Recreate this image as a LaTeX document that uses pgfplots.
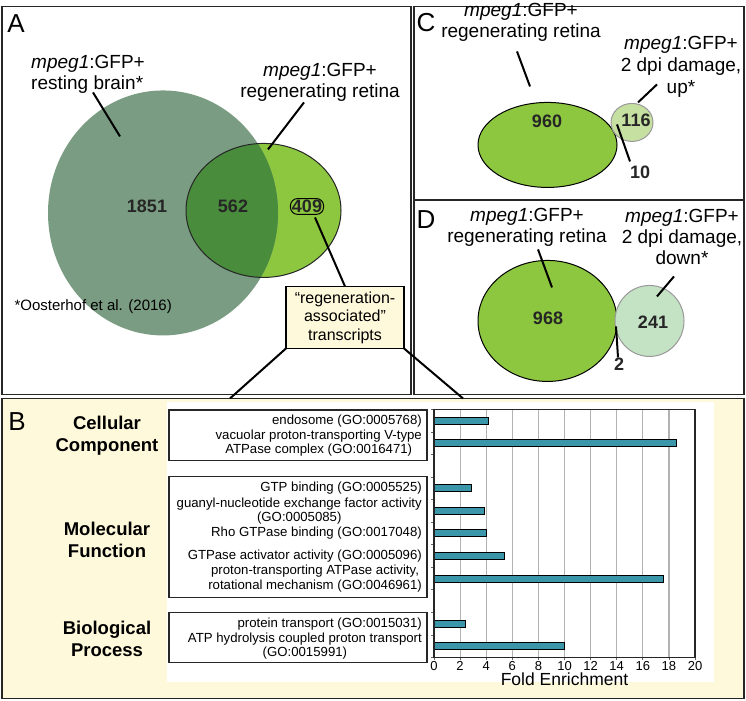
\documentclass[border=0pt]{standalone}
\usepackage{fontspec}
\setmainfont{Liberation Sans}
\usepackage{pgfplots}
\pgfplotsset{compat=1.18}

\definecolor{venngray}{RGB}{122,156,130}
\definecolor{venngreen}{RGB}{141,198,63}
\definecolor{vennoverlap}{RGB}{72,140,60}
\definecolor{lightup}{RGB}{198,224,162}
\definecolor{lightdown}{RGB}{196,226,196}
\definecolor{cream}{RGB}{255,249,219}
\definecolor{barteal}{RGB}{58,150,168}

\newcommand{\vf}{\fontsize{19}{21}\selectfont}
\newcommand{\mpg}{\textit{mpeg1}:GFP+}

\begin{document}
\begin{tikzpicture}[x=1pt,y=-1pt]
\fill[white] (0,0) rectangle (746,696);

% ---- panel A
\draw[line width=1.5pt, black!85] (2,2) rectangle (411,390);
\node[font=\fontsize{26}{26}\selectfont] at (16,19) {A};
\fill[venngreen] (263.5,206) ellipse [x radius=77.5, y radius=67];
\fill[venngray] (163,208.5) ellipse [x radius=115, y radius=122.5];
\begin{scope}
  \clip (263.5,206) ellipse [x radius=77.5, y radius=67];
  \fill[vennoverlap] (163,208.5) ellipse [x radius=115, y radius=122.5];
\end{scope}
\draw[line width=1pt, black!85] (263.5,206) ellipse [x radius=77.5, y radius=67];
\node[font=\fontsize{18}{18}\selectfont\bfseries, text=black!85] at (147,202) {1851};
\node[font=\fontsize{18}{18}\selectfont\bfseries, text=black!85] at (233,202) {562};
\node[font=\fontsize{18}{18}\selectfont\bfseries, text=black!85, draw=black, line width=1pt,
      rounded corners=7pt, inner sep=1.5pt] at (307,202) {409};
\node[font=\vf, align=left] at (88,70) {\mpg\\resting brain*};
\node[font=\vf, align=center] at (320,78) {\mpg\\regenerating retina};
\draw[line width=2pt] (93,88) -- (120,132);
\draw[line width=2pt] (304,98) -- (268,145);
\draw[line width=2pt] (315,213) -- (345,282);
\node[font=\fontsize{15}{15}\selectfont, anchor=west] at (11,302) {*Oosterhof et al. (2016)};
\filldraw[fill=cream, line width=1.2pt] (286,282) rectangle (404,344);
\node[font=\fontsize{16}{18.5}\selectfont, align=center] at (345,313)
  {“regeneration-\\associated”\\transcripts};

% ---- panel C
\draw[line width=1.5pt, black!85] (414,2) rectangle (744,195);
\node[font=\fontsize{26}{26}\selectfont] at (426,18) {C};
\filldraw[fill=venngreen, draw=black, line width=1pt] (547.5,140.5) ellipse [x radius=69.5, y radius=42.5];
\filldraw[fill=lightup, draw=black!40, line width=1pt] (632,118) ellipse [x radius=21, y radius=19];
\node[font=\fontsize{18}{18}\selectfont\bfseries, text=black!85] at (547,117) {960};
\node[font=\fontsize{18}{18}\selectfont\bfseries, text=black!85] at (636,116) {116};
\node[font=\fontsize{18}{18}\selectfont\bfseries, text=black!85] at (640,168) {10};
\node[font=\vf, align=center] at (521,18) {\mpg\\regenerating retina};
\node[font=\fontsize{19}{22}\selectfont, align=center] at (681,62) {\mpg\\2 dpi damage,\\up*};
\draw[line width=2pt] (517,47) -- (530,82);
\draw[line width=2pt] (657,80) -- (638,98);
\draw[line width=2pt] (617,120) -- (630,157);

% ---- panel D
\draw[line width=1.5pt, black!85] (414,196) rectangle (744,390);
\node[font=\fontsize{26}{26}\selectfont] at (426,215) {D};
\filldraw[fill=venngreen, draw=black, line width=1pt] (547.5,316.5) ellipse [x radius=69.5, y radius=60.5];
\filldraw[fill=lightdown, draw=black!40, line width=1pt] (649.5,316.5) ellipse [x radius=34.5, y radius=35.5];
\node[font=\fontsize{18}{18}\selectfont\bfseries, text=black!85] at (548,314) {968};
\node[font=\fontsize{18}{18}\selectfont\bfseries, text=black!85] at (653,318) {241};
\node[font=\fontsize{18}{18}\selectfont\bfseries, text=black!85] at (619,360) {2};
\node[font=\vf, align=center] at (527,223) {\mpg\\regenerating retina};
\node[font=\vf, align=center] at (682,233) {\mpg\\2 dpi damage,\\down*};
\draw[line width=2pt] (538,245) -- (552,283);
\draw[line width=2pt] (674,272) -- (657,292);
\draw[line width=2pt] (616,322) -- (618,353);

% ---- panel B
\filldraw[fill=cream, draw=black!85, line width=1.5pt] (2,394) rectangle (744,694);
\fill[white] (167,398) rectangle (714,678);
\node[font=\fontsize{26}{26}\selectfont] at (17,417) {B};
\draw[line width=1.2pt, black!85] (169,405.5) rectangle (427,456);
\draw[line width=1.2pt, black!85] (169,472) rectangle (427,593);
\draw[line width=1.2pt, black!85] (169,608) rectangle (427,658);
\node[font=\fontsize{18.5}{22}\selectfont\bfseries, align=center] at (107,431) {Cellular\\Component};
\node[font=\fontsize{18.5}{22}\selectfont\bfseries, align=center] at (107,535) {Molecular\\Function};
\node[font=\fontsize{18.5}{22}\selectfont\bfseries, align=center] at (107,634) {Biological\\Process};

\begin{axis}[
    at={(434pt,-653pt)}, anchor=south west,
    scale only axis, width=261pt, height=248pt,
    xmin=0, xmax=20, ymin=0.5, ymax=11.5, y dir=reverse,
    xbar, bar width=7pt,
    axis line style={line width=1.2pt, black!85},
    xtick={0,2,...,20},
    xtick pos=bottom, ytick pos=left,
    xmajorgrids,
    major grid style={line width=1.2pt, draw=black!30},
    ytick={1,2,4,5,6,7,8,10,11},
    yticklabels={
      endosome (GO:0005768),
      vacuolar proton-transporting V-type\\ATPase complex (GO:0016471),
      GTP binding (GO:0005525),
      guanyl-nucleotide exchange factor activity\\(GO:0005085),
      Rho GTPase binding (GO:0017048),
      GTPase activator activity (GO:0005096),
      {proton-transporting ATPase activity,\\rotational mechanism (GO:0046961)},
      protein transport (GO:0015031),
      ATP hydrolysis coupled proton transport\\(GO:0015991)},
    minor ytick={0.5,1.5,...,11.5},
    tick align=outside,
    major tick length=3pt, minor tick length=3pt,
    every major y tick/.append style={opacity=0},
    tick style={line width=0.8pt, black!60},
    /pgf/number format/assume math mode=true,
    yticklabel style={font=\fontsize{13.2}{14.5}\selectfont, align=center, inner sep=0pt, xshift=-9pt},
    xticklabel style={font=\fontsize{13}{13}\selectfont, inner sep=1pt},
    xlabel={Fold Enrichment},
    xlabel style={font=\fontsize{17.5}{17.5}\selectfont, inner sep=0pt, yshift=-1pt},
]
\addplot[fill=barteal, draw=black, line width=0.9pt] coordinates {
    (4.2,1) (18.6,2) (2.9,4) (3.9,5) (4.0,6) (5.4,7) (17.6,8) (2.4,10) (10.0,11)
};
\draw[line width=1.2pt, black!85] (rel axis cs:0,0) rectangle (rel axis cs:1,1);
\end{axis}

% connector lines from the callout to panel B
\draw[line width=2pt] (286,344) -- (230,394);
\draw[line width=2pt] (404,344) -- (463,394);
\end{tikzpicture}
\end{document}
